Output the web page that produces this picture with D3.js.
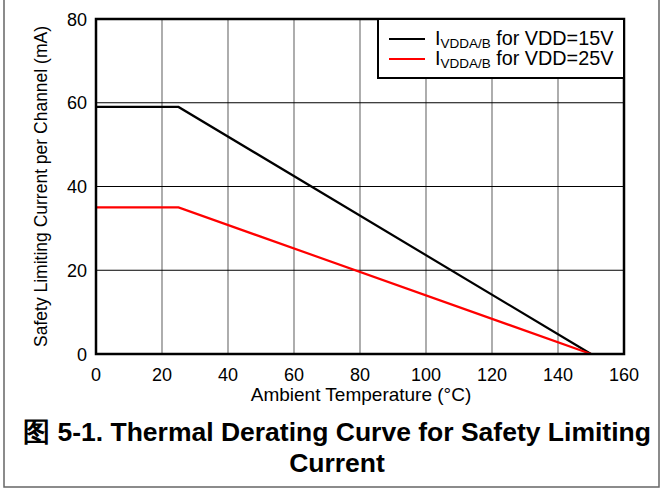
<!DOCTYPE html>
<html>
<head>
<meta charset="utf-8">
<script src="https://cdn.jsdelivr.net/npm/d3@7"></script>
<style>
  body { margin: 0; background: #fff; }
  text { font-family: "Liberation Sans", Arial, sans-serif; }
</style>
</head>
<body>
<svg id="chart" width="662" height="489"></svg>
<script>
// temperature breakpoints (degC) and current limits (mA)
var tempPoints = [0, 25, 150];
var vdd15 = [59, 59, 0];
var vdd25 = [35, 35, 0];
var xTicks = [0, 20, 40, 60, 80, 100, 120, 140, 160];
var yTicks = [0, 20, 40, 60, 80];
var seriesNames = ["for VDD=15V", "for VDD=25V"];
var seriesColors = ["#000000", "#ff0000"];

var svg = d3.select("#chart");
var pLeft = 96, pRight = 624, pTop = 19, pBottom = 354;

var x = d3.scaleLinear().domain([0, 160]).range([pLeft, pRight]);
var y = d3.scaleLinear().domain([0, 80]).range([pBottom, pTop]);

// outer figure border (left, right, bottom)
svg.append("path")
  .attr("d", "M4,0 V487 H659 V0")
  .attr("fill", "none")
  .attr("stroke", "#666")
  .attr("stroke-width", 1.5);

// grid
svg.append("g").selectAll("line")
  .data(xTicks.slice(1, -1))
  .join("line")
  .attr("x1", d => x(d)).attr("x2", d => x(d))
  .attr("y1", pTop).attr("y2", pBottom)
  .attr("stroke", "#777").attr("stroke-width", 1.2);

svg.append("g").selectAll("line")
  .data(yTicks.slice(1, -1))
  .join("line")
  .attr("x1", pLeft).attr("x2", pRight)
  .attr("y1", d => y(d)).attr("y2", d => y(d))
  .attr("stroke", "#000").attr("stroke-width", 1);

// series lines
var line = d3.line()
  .x(function(d) { return x(d[0]); })
  .y(function(d) { return y(d[1]); });

[vdd15, vdd25].forEach(function(vals, i) {
  svg.append("path")
    .attr("d", line(tempPoints.map((t, j) => [t, vals[j]])))
    .attr("fill", "none")
    .attr("stroke", seriesColors[i])
    .attr("stroke-width", 2.2);
});

// plot frame
svg.append("rect")
  .attr("x", pLeft).attr("y", pTop)
  .attr("width", pRight - pLeft).attr("height", pBottom - pTop)
  .attr("fill", "none").attr("stroke", "#000").attr("stroke-width", 2.5);

// tick labels
svg.append("g").selectAll("text")
  .data(xTicks)
  .join("text")
  .attr("x", d => x(d)).attr("y", 381)
  .attr("text-anchor", "middle")
  .attr("font-size", 18)
  .text(d => d);

svg.append("g").selectAll("text")
  .data(yTicks)
  .join("text")
  .attr("x", 87).attr("y", d => y(d) + 6.5)
  .attr("text-anchor", "end")
  .attr("font-size", 18)
  .text(d => d);

// axis titles
svg.append("text")
  .attr("x", 361).attr("y", 401)
  .attr("text-anchor", "middle")
  .attr("font-size", 19)
  .text("Ambient Temperature (°C)");

svg.append("text")
  .attr("transform", "translate(47," + ((pTop + pBottom) / 2) + ") rotate(-90)")
  .attr("text-anchor", "middle")
  .attr("font-size", 17.5)
  .text("Safety Limiting Current per Channel (mA)");

// legend
var lg = svg.append("g");
lg.append("rect")
  .attr("x", 378).attr("y", pTop)
  .attr("width", pRight - 378).attr("height", 59)
  .attr("fill", "#fff").attr("stroke", "#000").attr("stroke-width", 2);

seriesNames.forEach(function(name, i) {
  var ly = 39 + i * 20;
  lg.append("line")
    .attr("x1", 389).attr("x2", 425)
    .attr("y1", ly).attr("y2", ly)
    .attr("stroke", seriesColors[i]).attr("stroke-width", 2.2);
  var t = lg.append("text")
    .attr("x", 435).attr("y", ly + 6)
    .attr("font-size", 19.8);
  t.append("tspan").text("I");
  t.append("tspan").attr("font-size", 13.5).attr("dy", 3).text("VDDA/B");
  t.append("tspan").attr("dy", -3).text(" " + name);
});

// caption
svg.append("text")
  .attr("x", 337).attr("y", 441)
  .attr("text-anchor", "middle")
  .attr("font-size", 26.5)
  .attr("font-weight", "bold")
  .text("图 5-1. Thermal Derating Curve for Safety Limiting");

svg.append("text")
  .attr("x", 337).attr("y", 472)
  .attr("text-anchor", "middle")
  .attr("font-size", 26.5)
  .attr("font-weight", "bold")
  .text("Current");
</script>
</body>
</html>
